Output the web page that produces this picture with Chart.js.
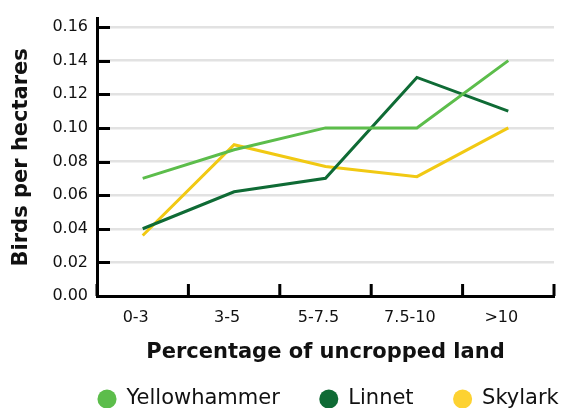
<!DOCTYPE html>
<html>
<head>
<meta charset="utf-8">
<script src="https://cdn.jsdelivr.net/npm/chart.js@4"></script>
<style>
  html, body { margin: 0; padding: 0; background: #ffffff; }
  #wrap { width: 566px; height: 408px; }
</style>
</head>
<body>
<div id="wrap"><canvas id="c" width="566" height="408"></canvas></div>
<script>
// Bird density by share of uncropped land on the farm
const categories = ['0-3', '3-5', '5-7.5', '7.5-10', '>10'];
const yellowhammer = [0.07, 0.087, 0.10, 0.10, 0.14];
const linnet = [0.04, 0.062, 0.07, 0.13, 0.11];
const skylark = [0.036, 0.09, 0.077, 0.071, 0.10];
const yTickValues = [0, 0.02, 0.04, 0.06, 0.08, 0.10, 0.12, 0.14, 0.16];

const FONT = '"DejaVu Sans", sans-serif';
const INK = '#111111';

// Short black tick marks drawn inward from both axes
const innerTicks = {
  id: 'innerTicks',
  afterDatasetsDraw(chart) {
    const { ctx, scales: { x, y }, chartArea } = chart;
    ctx.save();
    ctx.strokeStyle = '#000';
    ctx.lineWidth = 3;
    ctx.beginPath();
    yTickValues.forEach(v => {
      const py = Math.round(y.getPixelForValue(v)) + 0.5;
      ctx.moveTo(chartArea.left, py);
      ctx.lineTo(chartArea.left + 13, py);
    });
    for (let i = 0; i <= categories.length; i++) {
      const px = x.getPixelForValue(i - 0.5);
      ctx.moveTo(px, chartArea.bottom);
      ctx.lineTo(px, chartArea.bottom - 12);
    }
    ctx.stroke();
    ctx.restore();
  }
};

// Start the legend row under the plot and let it run to the right edge on one line
const legendShift = {
  id: 'legendShift',
  afterLayout(chart) {
    const lg = chart.legend;
    if (!lg) return;
    lg.left = 58;
    lg.right = 700;
  }
};

const lineSet = (label, data, stroke, legendFill) => ({
  label, data,
  borderColor: stroke,
  backgroundColor: legendFill,
  borderWidth: 3,
  pointRadius: 0,
  pointStyle: 'circle',
  tension: 0,
  fill: false
});

new Chart(document.getElementById('c'), {
  type: 'line',
  data: {
    labels: categories,
    datasets: [
      lineSet('Yellowhammer', yellowhammer, '#5cbd4b', '#5cbd4b'),
      lineSet('Linnet', linnet, '#0f6b35', '#0f6b35'),
      lineSet('Skylark', skylark, '#f1c913', '#fdd232')
    ]
  },
  options: {
    responsive: false,
    animation: false,
    layout: { padding: { top: 12, right: 12, left: 0, bottom: -11.5 } },
    plugins: {
      tooltip: { enabled: false },
      legend: {
        position: 'bottom',
        align: 'start',
        labels: {
          usePointStyle: true,
          pointStyle: 'circle',
          boxHeight: 13.5,
          boxWidth: 18,
          padding: 40,
          color: INK,
          font: { family: FONT, size: 21 },
          // solid dots without an outline
          generateLabels(chart) {
            return Chart.defaults.plugins.legend.labels.generateLabels(chart)
              .map(item => Object.assign(item, { lineWidth: 0, strokeStyle: item.fillStyle }));
          }
        }
      }
    },
    scales: {
      x: {
        offset: true,
        grid: { display: false, drawTicks: false },
        border: { display: true, color: '#000', width: 3 },
        ticks: {
          color: INK,
          padding: 12,
          labelOffset: -7,
          font: { family: FONT, size: 16 }
        },
        title: {
          display: true,
          text: 'Percentage of uncropped land',
          color: INK,
          font: { family: FONT, size: 21, weight: 'bold' },
          padding: { top: 0, bottom: -17 }
        },
        afterFit(scale) { scale.height = 52.5; }
      },
      y: {
        min: 0,
        max: 0.165,
        grid: {
          color: '#e2e2e2',
          lineWidth: 2.5,
          drawTicks: false
        },
        border: { display: true, color: '#000', width: 3 },
        ticks: {
          padding: 9,
          color: INK,
          font: { family: FONT, size: 16 },
          callback: v => v.toFixed(2)
        },
        afterBuildTicks(scale) {
          scale.ticks = yTickValues.map(v => ({ value: v }));
        },
        title: {
          display: true,
          text: 'Birds per hectares',
          color: INK,
          font: { family: FONT, size: 21, weight: 'bold' },
          padding: { top: 9.4, bottom: 0 }
        },
        afterFit(scale) { scale.width = 97; }
      }
    }
  },
  plugins: [innerTicks, legendShift]
});
</script>
</body>
</html>
